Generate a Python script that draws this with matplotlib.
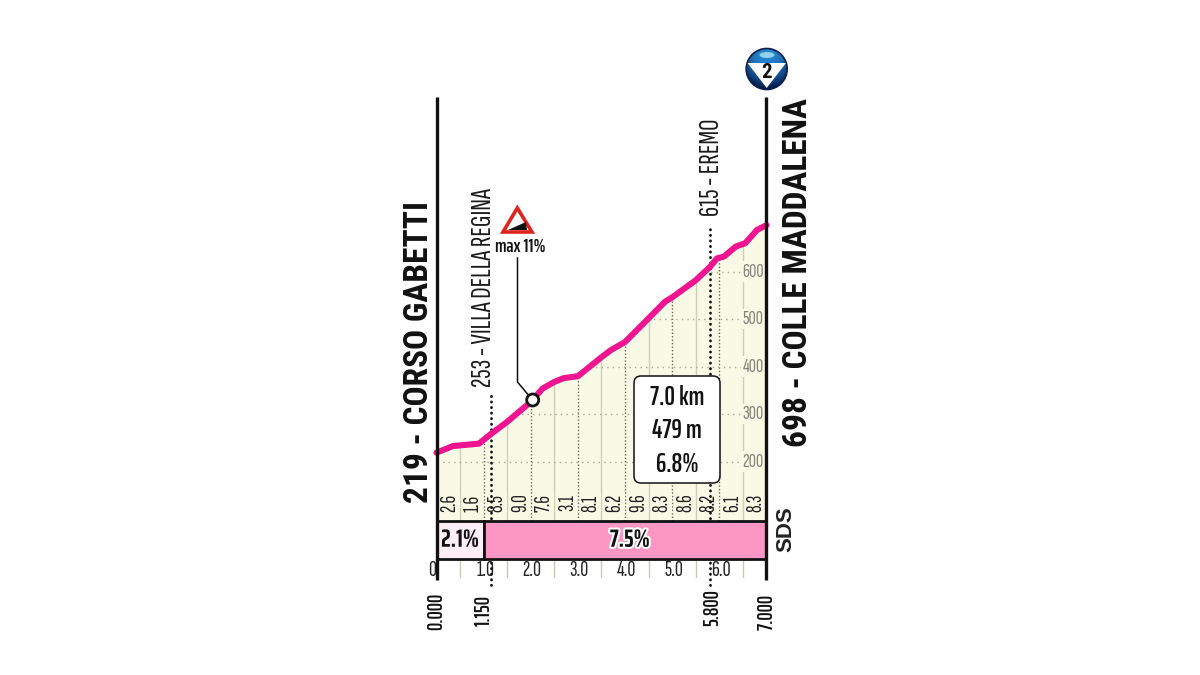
import numpy as np
import matplotlib
matplotlib.use('Agg')
import matplotlib.pyplot as plt
import matplotlib.patheffects as pe
from matplotlib.patches import Circle, Ellipse, Polygon, Rectangle, FancyBboxPatch

# profile (km, metres)
km = [0, 0.35, 0.9, 1.0, 1.15, 1.5, 2.0, 2.25, 2.5, 2.7, 3.0, 3.5, 3.7, 4.0, 4.5, 4.85, 5.0, 5.5, 5.8, 5.95, 6.1, 6.35, 6.55, 6.8, 7.0]
elev = [219, 233, 238, 246, 258, 284, 326, 354, 368, 376, 380, 420, 435, 452, 502, 537, 546, 582, 610, 628, 632, 653, 660, 688, 698]

grad_km = [0.25, 0.75, 1.25, 1.75, 2.25, 2.75, 3.25, 3.75, 4.25, 4.75, 5.25, 5.75, 6.25, 6.75]
grad_lab = ['2.6', '1.6', '8.5', '9.0', '7.6', '3.1', '8.1', '6.2', '9.6', '8.3', '8.6', '8.2', '6.1', '8.3']
elev_ticks = [200, 300, 400, 500, 600]
km_ticks = [1, 2, 3, 4, 5, 6]
km_labels = ['1.0', '2.0', '3.0', '4.0', '5.0', '6.0']
half_km = [0.5, 1.5, 2.5, 3.5, 4.5, 5.5, 6.5]
point_km = [0, 1.0, 5.85, 7.0]
point_lab = ['0.000', '1.150', '5.800', '7.000']
sectors = [0, 1.0, 7.0]
sector_lab = ['2.1%', '7.5%']

PINK = '#ef1590'
THIN = ['Sofia Sans Extra Condensed', 'Roboto Condensed', 'Liberation Sans', 'DejaVu Sans']
BOLD = ['Saira ExtraCondensed', 'Roboto Condensed', 'Liberation Sans', 'DejaVu Sans']
HEAD = ['Roboto Condensed', 'Liberation Sans', 'DejaVu Sans']

fig = plt.figure(figsize=(12, 6.75), dpi=100)

# whole-figure axes, scales set so km / metres land where the original has them
px_km = 47.14
px_m = 0.475
ax = fig.add_axes([0, 0, 1, 1])
ax.set_xlim(-436.5 / px_km, (1200 - 436.5) / px_km)
ax.set_ylim(200 - (675 - 461.7) / px_m, 200 + 461.7 / px_m)
ax.axis('off')


def ypx(p):
    return 200 - (p - 461.7) / px_m


Y_BASE = ypx(521)
Y_TOP = ypx(97)
Y_BAND = ypx(558.5)
Y_POST = ypx(580)

ax.fill_between(km, elev, Y_BASE, color='#f9fae6', lw=0, zorder=1)

# grid inside the profile
for x in np.arange(0.5, 7, 0.5):
    top = np.interp(x, km, elev)
    if x in half_km:
        ax.plot([x, x], [Y_BASE, top], color='#cfcfb8', lw=1, zorder=2)
    else:
        ax.plot([x, x], [Y_BASE, top], color='#66665a', lw=1, ls=(0, (1, 1.5)), zorder=2)
for y in elev_ticks:
    x0 = np.interp(y, elev, km)
    ax.plot([x0, 6.97], [y, y], color='#aaaa92', lw=1, ls=(0, (1, 3)), zorder=2)
    ax.text(6.72, y, str(y), color='#85857a', fontsize=14.5, family=THIN, ha='center', va='center',
            bbox=dict(fc='#f9fae6', ec='none', pad=0.8), zorder=3)

# gradient per half km
for x, s in zip(grad_km, grad_lab):
    ax.text(x + 0.03, ypx(503), s, fontsize=15.5, family=THIN, color='#222222', rotation=90, ha='center', va='center', zorder=4,
            bbox=dict(fc='#f9fae6', ec='none', pad=0.3))

# climb markers
for x, top in zip([1.15, 5.8], [ypx(394), ypx(225)]):
    ax.plot([x, x], [ypx(585), top], color='#111111', lw=2, ls=(0, (0.1, 1.9)), dash_capstyle='round', zorder=5)
ax.plot(km, elev, color=PINK, lw=4.4, solid_capstyle='round', zorder=6)
ax.text(1.0, ypx(387), '253 - VILLA DELLA REGINA', fontsize=20.5, family=THIN, rotation=90, ha='center', va='bottom', color='#1a1a1a')
ax.text(5.84, ypx(216), '615 - EREMO', fontsize=20.5, family=THIN, rotation=90, ha='center', va='bottom', color='#1a1a1a')

# sector band
band_col = ['#fdeef5', '#fb97c2']
for i in range(2):
    ax.add_patch(Rectangle((sectors[i], Y_BAND), sectors[i + 1] - sectors[i], Y_BASE - Y_BAND, fc=band_col[i], ec='#111111', lw=2, zorder=7))
    ax.text((sectors[i] + sectors[i + 1]) / 2 + 0.1 * i, (Y_BASE + Y_BAND) / 2, sector_lab[i], fontsize=18, family=BOLD, fontweight='bold',
            ha='center', va='center', color='#111111', zorder=8,
            path_effects=[pe.withStroke(linewidth=3, foreground='white' if i else band_col[0])])

# km scale
for x in half_km:
    ax.plot([x, x], [Y_BAND, ypx(577)], color='#c9c9b4', lw=1, zorder=2)
for x, s in zip(km_ticks, km_labels):
    ax.text(x + 0.03, ypx(571), s, fontsize=16, family=THIN, ha='center', va='center', color='#222222', zorder=4)
ax.text(-0.1, ypx(571), '0', fontsize=16, family=THIN, ha='center', va='center', color='#222222')
for x, s in zip(point_km, point_lab):
    ax.text(x, ypx(630 if x in (0, 7.0) else 626), s, fontsize=15, family=BOLD, fontweight='semibold',
            rotation=90, ha='center', va='bottom', color='#111111')

# side posts and climb names
for x in (0, 7.0):
    ax.plot([x, x], [Y_POST, Y_TOP], color='#111111', lw=2.4, zorder=8, solid_capstyle='butt')
ax.text(-0.38, ypx(503), '219 - CORSO GABETTI', fontsize=24, family=HEAD, fontweight='bold', rotation=90, ha='center', va='bottom', color='#111111')
ax.text(7.67, ypx(447), '698 - COLLE MADDALENA', fontsize=24, family=HEAD, fontweight='bold', rotation=90, ha='center', va='bottom', color='#111111')

# pixel overlay for the little drawn bits
ov = fig.add_axes([0, 0, 1, 1], facecolor='none')
ov.set_xlim(0, 1200)
ov.set_ylim(675, 0)
ov.axis('off')

# summary box
ov.add_patch(FancyBboxPatch((634, 376), 86, 107, boxstyle='round,pad=0,rounding_size=7', fc='white', ec='#111111', lw=1.1, zorder=5))
for yy, s in zip([397.5, 431, 465], ['7.0 km', '479 m', '6.8%']):
    ov.text(677, yy, s, fontsize=19, family=BOLD, fontweight='semibold', ha='center', va='center', color='#111111', zorder=6)

# max gradient sign and leader
ov.plot([517.5, 517.5, 530], [258, 382, 397], color='#111111', lw=1.1, zorder=5)
ov.add_patch(Circle((532.7, 400), 6, fc='white', ec='#111111', lw=2, zorder=7))
ov.add_patch(Polygon([[517.3, 208], [503, 232], [532, 232]], closed=True, fc='white', ec='#e0241c', lw=2.6, zorder=5, joinstyle='miter'))
ov.add_patch(Polygon([[508, 230], [527, 230], [526, 222]], closed=True, fc='#111111', ec='none', zorder=6))
ov.text(520, 246.7, 'max 11%', fontsize=14, family=BOLD, fontweight='semibold', ha='center', va='center', color='#111111')

# mountain category badge
yy, xx = np.mgrid[0:1:64j, 0:1:64j]
t = np.clip(yy * 1.05, 0, 1)[..., None]
r = np.clip(np.hypot(xx - 0.5, yy - 0.4) * 1.7, 0, 1)[..., None]
grad = (1 - t) * np.array([0.18, 0.62, 0.90]) + t * np.array([0.05, 0.25, 0.60])
grad = grad * (1 - 0.65 * r ** 3)
im = ov.imshow(grad, extent=(746, 787.5, 90, 48.5), zorder=5, aspect='auto')
im.set_clip_path(Circle((766.7, 69), 20.5, transform=ov.transData))
ov.set_xlim(0, 1200)
ov.set_ylim(675, 0)
ov.add_patch(Circle((766.7, 69), 20.5, fc='none', ec='#0a1f55', lw=1.2, zorder=6))
ov.add_patch(Ellipse((767, 55), 15, 6, fc='#8fd0ee', ec='none', zorder=6))
ov.add_patch(Polygon([[747.5, 63], [786, 63], [766.7, 88]], closed=True, fc='white', ec='none', zorder=6))
ov.text(766.7, 72, '2', fontsize=15, family=HEAD, fontweight='bold', ha='center', va='center', color='#111111', zorder=7)

# SDS logo
ov.text(786, 529.5, 'SDS', fontsize=16, family=['Liberation Sans', 'DejaVu Sans'], fontweight='bold', rotation=90, ha='center', va='center', color='#222222')

fig.savefig('out.png', dpi=100, facecolor='white')
